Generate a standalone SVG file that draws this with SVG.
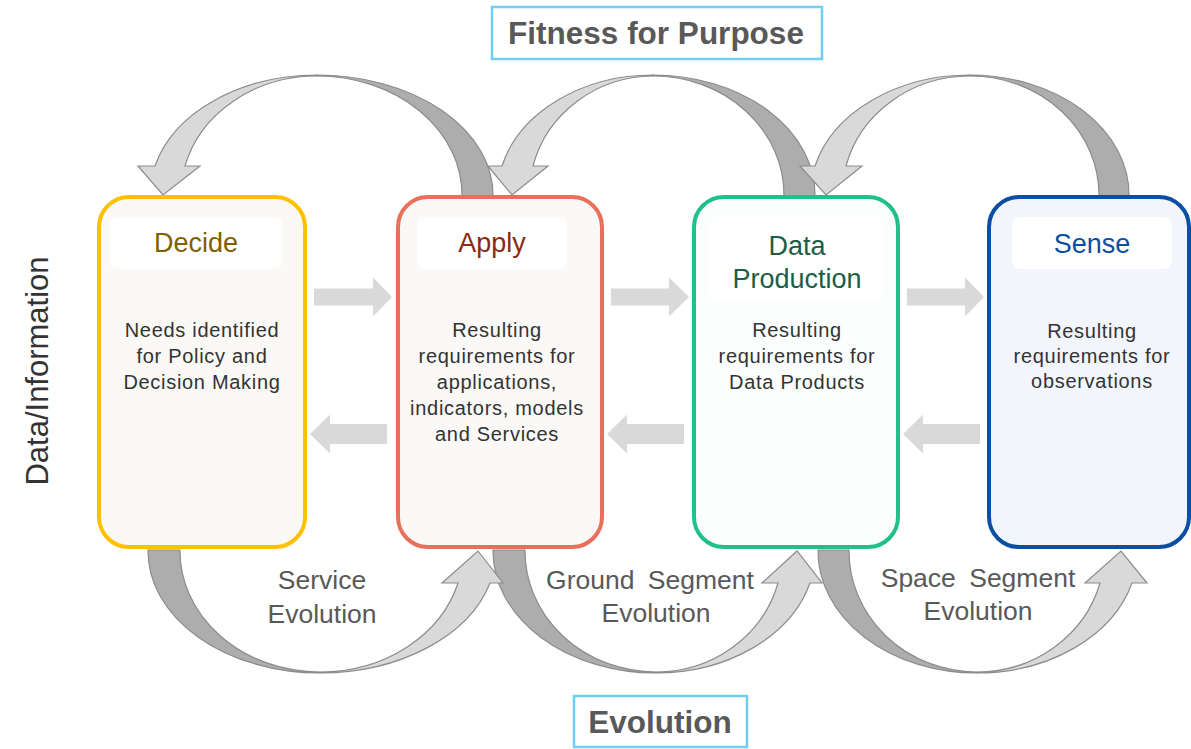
<svg xmlns="http://www.w3.org/2000/svg" width="1191" height="749" viewBox="0 0 1191 749">
<style>
.light{fill:#D9D9D9;stroke:#8C8C8C;stroke-width:1.2;stroke-linejoin:miter}
.dark{fill:#ADADAD;stroke:#8C8C8C;stroke-width:1.2}
.harrow{fill:#D9D9D9}
.box{stroke-width:4}
.hdr{fill:#FFFFFF}
text{font-family:"Liberation Sans",Arial,sans-serif;text-anchor:middle}
.title{font-size:27px}
.body{font-size:20px;letter-spacing:0.7px;fill:#333333}
.evo{font-size:26.5px;fill:#595959}
.main{font-size:31.5px;font-weight:bold;fill:#595959}
.frame{fill:#FFFFFF;stroke:#6DCFF6;stroke-width:2.5}
</style>
<rect width="1191" height="749" fill="#FFFFFF"/>

<g id="connectors">
  <!-- top arches -->
  <path class="dark" d="M317,75 A176,120 0 0 1 493,196 L462,196 A145,119 0 0 0 317,76 Z"/>
  <path class="light" d="M155,166 A167,120 0 0 1 317,75 L317,76 A136,119 0 0 0 185,166 L200,166 L163,195 L138,166 Z"/>
  <path class="dark" d="M653,75 A162,120 0 0 1 815,196 L784,196 A131,119 0 0 0 653,76 Z"/>
  <path class="light" d="M502,166 A155.7,120 0 0 1 653,75 L653,76 A124.7,119 0 0 0 533,166 L548,166 L512,195 L488,166 Z"/>
  <path class="dark" d="M970,75 A159,120 0 0 1 1129,196 L1099,196 A129,119 0 0 0 970,76 Z"/>
  <path class="light" d="M815,166 A159.8,120 0 0 1 970,75 L970,76 A127.8,119 0 0 0 846,166 L862,166 L826,195 L800,166 Z"/>
  <!-- bottom arches -->
  <path class="dark" d="M818,550 A159,122 0 0 0 977,673 L977,672 A128,121 0 0 1 849,550 Z"/>
  <path class="light" d="M977,673 A160.8,122 0 0 0 1132,583 L1147,583 L1121,551 L1085,583 L1100,583 A127.6,121 0 0 1 977,672 Z"/>
  <path class="dark" d="M493,550 A163,122 0 0 0 656,673 L656,672 A131,121 0 0 1 525,550 Z"/>
  <path class="light" d="M656,673 A159.8,122 0 0 0 810,583 L822,583 L797,551 L762,583 L778,583 A126.6,121 0 0 1 656,672 Z"/>
  <path class="dark" d="M148,550 A172,122 0 0 0 320,673 L320,672 A140,121 0 0 1 180,550 Z"/>
  <path class="light" d="M320,673 A176.3,122 0 0 0 490,583 L503,583 L478,551 L442,583 L458,583 A143.2,121 0 0 1 320,672 Z"/>
  <!-- horizontal arrows -->
  <polygon class="harrow" points="314,288.5 373,288.5 373,277.5 392,297 373,316.5 373,305.5 314,305.5"/>
  <polygon class="harrow" points="611,288.5 669,288.5 669,277.5 689,297 669,316.5 669,305.5 611,305.5"/>
  <polygon class="harrow" points="907,288.5 965,288.5 965,277.5 984,297 965,316.5 965,305.5 907,305.5"/>
  <polygon class="harrow" points="387,424 330,424 330,414.5 310,434 330,453.5 330,444 387,444"/>
  <polygon class="harrow" points="684,424 627,424 627,414.5 607,434 627,453.5 627,444 684,444"/>
  <polygon class="harrow" points="980,424 923,424 923,414.5 903,434 923,453.5 923,444 980,444"/>
</g>

<g id="decide">
  <rect class="box" x="99" y="197" width="206" height="350" rx="30" fill="#FAF9F5" stroke="#FFC000"/>
  <rect class="hdr" x="110" y="217" width="172" height="52" rx="8"/>
  <text class="title" x="196" y="252" fill="#7F6000">Decide</text>
  <text class="body" x="202" y="337">Needs identified</text>
  <text class="body" x="202" y="363">for Policy and</text>
  <text class="body" x="202" y="389">Decision Making</text>
</g>

<g id="apply">
  <rect class="box" x="398" y="197" width="204" height="350" rx="30" fill="#FAF9F7" stroke="#E8705A"/>
  <rect class="hdr" x="417" y="217" width="150" height="52" rx="8"/>
  <text class="title" x="492" y="252" fill="#8B2A14">Apply</text>
  <text class="body" x="497" y="337">Resulting</text>
  <text class="body" x="497" y="363">requirements for</text>
  <text class="body" x="497" y="389">applications,</text>
  <text class="body" x="497" y="415">indicators, models</text>
  <text class="body" x="497" y="441">and Services</text>
</g>

<g id="data-production">
  <rect class="box" x="694" y="197" width="204" height="350" rx="30" fill="#FCFEFD" stroke="#20C08A"/>
  <rect class="hdr" x="710" y="217" width="172" height="84" rx="8"/>
  <text class="title" x="797" y="255" fill="#1A5E45">Data</text>
  <text class="title" x="797" y="288" fill="#1A5E45">Production</text>
  <text class="body" x="797" y="337">Resulting</text>
  <text class="body" x="797" y="363">requirements for</text>
  <text class="body" x="797" y="389">Data Products</text>
</g>

<g id="sense">
  <rect class="box" x="989" y="197" width="200" height="350" rx="30" fill="#F2F5FB" stroke="#0B4EA2"/>
  <rect class="hdr" x="1012" y="217" width="160" height="52" rx="8"/>
  <text class="title" x="1092" y="253" fill="#0B4EA2">Sense</text>
  <text class="body" x="1092" y="338">Resulting</text>
  <text class="body" x="1092" y="363">requirements for</text>
  <text class="body" x="1092" y="388">observations</text>
</g>

<g id="fitness-for-purpose">
  <rect class="frame" x="492" y="7" width="330" height="52"/>
  <text class="main" x="656" y="44">Fitness for Purpose</text>
</g>

<g id="evolution">
  <rect class="frame" x="574" y="696" width="173" height="51"/>
  <text class="main" x="660" y="733">Evolution</text>
</g>

<g id="labels">
  <text class="evo" x="322" y="589">Service</text>
  <text class="evo" x="322" y="623">Evolution</text>
  <text class="evo" x="650" y="589" style="word-spacing:6px">Ground Segment</text>
  <text class="evo" x="656" y="622">Evolution</text>
  <text class="evo" x="978" y="587" style="word-spacing:6px">Space Segment</text>
  <text class="evo" x="978" y="620">Evolution</text>
  <text transform="translate(48,371) rotate(-90)" style="font-size:31px;fill:#333333">Data/Information</text>
</g>
</svg>
